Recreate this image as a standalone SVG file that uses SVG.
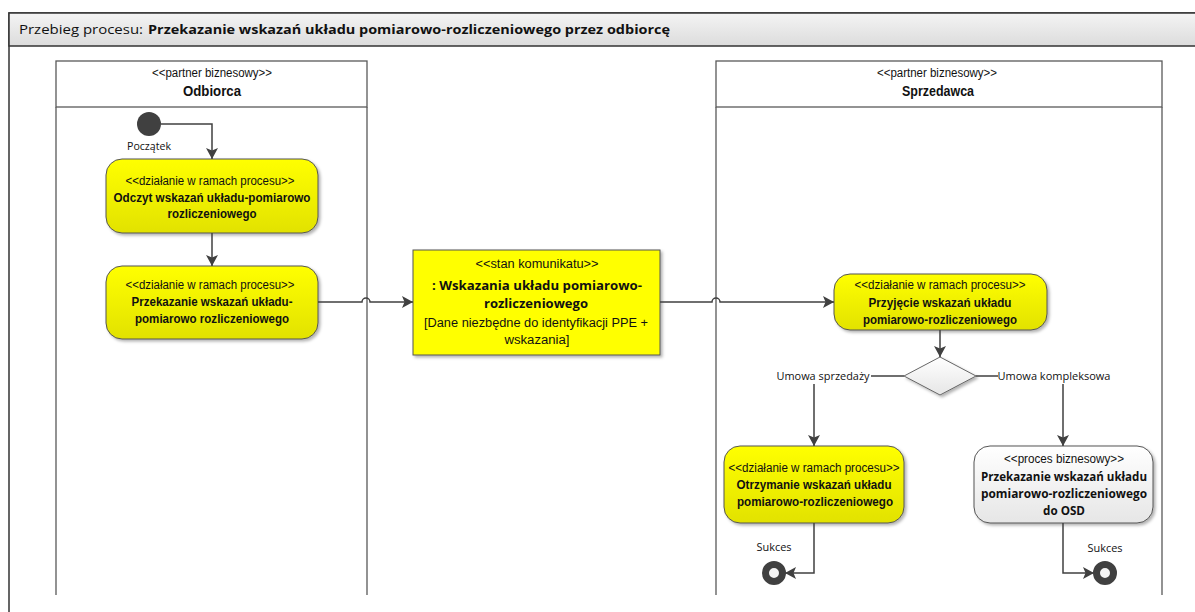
<svg xmlns="http://www.w3.org/2000/svg" width="1195" height="612" viewBox="0 0 1195 612">
<defs>
<linearGradient id="gTitle" x1="0" y1="0" x2="0" y2="1"><stop offset="0" stop-color="#f4f4f4"/><stop offset="1" stop-color="#dcdcdc"/></linearGradient>
<linearGradient id="gYellow" x1="0" y1="0" x2="0" y2="1"><stop offset="0" stop-color="#ffff00"/><stop offset="1" stop-color="#e2e200"/></linearGradient>
<linearGradient id="gWhite" x1="0" y1="0" x2="0" y2="1"><stop offset="0" stop-color="#ffffff"/><stop offset="1" stop-color="#e6e6e6"/></linearGradient>
<filter id="sh" x="-10%" y="-10%" width="130%" height="140%"><feDropShadow dx="2" dy="2" stdDeviation="1.5" flood-color="#000" flood-opacity="0.3"/></filter>
<marker id="arr" markerUnits="userSpaceOnUse" markerWidth="14" markerHeight="14" refX="11" refY="6" orient="auto"><path d="M0,0 L11,6 L0,12 L2.5,6 Z" fill="#404040"/></marker>
<style>
.frame{fill:none;stroke:#333;stroke-width:1.5}
.lane{fill:none;stroke:#595959;stroke-width:1.3}
.act{fill:url(#gYellow);stroke:#555;stroke-width:1;filter:url(#sh)}
.proc{fill:url(#gWhite);stroke:#555;stroke-width:1;filter:url(#sh)}
.msg{fill:#ffff00;stroke:#555;stroke-width:1;filter:url(#sh)}
.con{fill:none;stroke:#404040;stroke-width:1.5}
.st{font-family:"Liberation Sans Narrow","Liberation Sans",Arial,sans-serif;font-size:12px;fill:#111;text-anchor:middle}
.b{font-family:"Liberation Sans Narrow","Liberation Sans",Arial,sans-serif;font-size:12.5px;font-weight:bold;fill:#111;text-anchor:middle}
.cb{font-family:"Open Sans","Noto Sans",sans-serif;font-size:13px;font-weight:bold;fill:#111;text-anchor:middle}
.lbl{font-family:"Open Sans","Noto Sans",sans-serif;font-size:11px;fill:#111;text-anchor:middle}
.hdr{font-family:"Liberation Sans Narrow","Liberation Sans",Arial,sans-serif;font-size:14px;font-weight:bold;fill:#111;text-anchor:middle}
.end{fill:#f4f4f4;stroke:#404040;stroke-width:7}
</style>
</defs>
<g id="frame">
<rect x="9" y="13" width="1195" height="610" class="frame"/>
<rect x="9" y="13" width="1195" height="33" fill="url(#gTitle)" stroke="#333" stroke-width="1.5"/>
<text x="19" y="34" font-family="Open Sans,Noto Sans,sans-serif" font-size="13" fill="#111"><tspan textLength="124" lengthAdjust="spacingAndGlyphs">Przebieg procesu:</tspan><tspan x="148" font-weight="bold" textLength="522" lengthAdjust="spacingAndGlyphs">Przekazanie wskazań układu pomiarowo-rozliczeniowego przez odbiorcę</tspan></text>
</g>
<g id="lane-odbiorca">
<rect x="56" y="61" width="311" height="46" fill="#fff" class="lane"/>
<path d="M56,107 V595 M367,107 V595" class="lane"/>
<text x="212" y="77" class="st" textLength="120" lengthAdjust="spacingAndGlyphs">&lt;&lt;partner biznesowy&gt;&gt;</text>
<text x="212" y="96" class="hdr" textLength="58" lengthAdjust="spacingAndGlyphs">Odbiorca</text>
</g>
<g id="lane-sprzedawca">
<rect x="716" y="61" width="446" height="46" fill="#fff" class="lane"/>
<path d="M716,107 V595 M1162,107 V595" class="lane"/>
<text x="937" y="77" class="st" textLength="120" lengthAdjust="spacingAndGlyphs">&lt;&lt;partner biznesowy&gt;&gt;</text>
<text x="938" y="96" class="hdr" textLength="72" lengthAdjust="spacingAndGlyphs">Sprzedawca</text>
</g>
<g id="start">
<circle cx="149" cy="124" r="12" fill="#404040"/>
<text x="149" y="150" class="lbl" textLength="44" lengthAdjust="spacingAndGlyphs">Początek</text>
</g>
<g id="odczyt">
<rect x="106" y="159" width="212" height="74" rx="16" class="act"/>
<text x="210" y="185" class="st" textLength="169" lengthAdjust="spacingAndGlyphs">&lt;&lt;działanie w ramach procesu&gt;&gt;</text>
<text x="212" y="202" class="b" textLength="197" lengthAdjust="spacingAndGlyphs">Odczyt wskazań układu-pomiarowo</text>
<text x="212" y="218" class="b" textLength="89" lengthAdjust="spacingAndGlyphs">rozliczeniowego</text>
</g>
<g id="przekazanie">
<rect x="106" y="266" width="212" height="73" rx="16" class="act"/>
<text x="210" y="289" class="st" textLength="169" lengthAdjust="spacingAndGlyphs">&lt;&lt;działanie w ramach procesu&gt;&gt;</text>
<text x="212" y="306" class="b" textLength="161" lengthAdjust="spacingAndGlyphs">Przekazanie wskazań układu-</text>
<text x="212" y="323" class="b" textLength="154" lengthAdjust="spacingAndGlyphs">pomiarowo rozliczeniowego</text>
</g>
<g id="komunikat">
<rect x="413" y="250" width="247" height="105" class="msg"/>
<text x="537" y="268" class="st" textLength="123" lengthAdjust="spacingAndGlyphs">&lt;&lt;stan komunikatu&gt;&gt;</text>
<text x="537" y="290" class="cb" textLength="210" lengthAdjust="spacingAndGlyphs">: Wskazania układu pomiarowo-</text>
<text x="536" y="308" class="cb" textLength="104" lengthAdjust="spacingAndGlyphs">rozliczeniowego</text>
<text x="536" y="327" class="st" font-size="13" textLength="224" lengthAdjust="spacingAndGlyphs">[Dane niezbędne do identyfikacji PPE +</text>
<text x="537" y="344" class="st" font-size="13" textLength="65" lengthAdjust="spacingAndGlyphs">wskazania]</text>
</g>
<g id="przyjecie">
<rect x="834" y="274" width="213" height="56" rx="16" class="act"/>
<text x="940" y="289" class="st" textLength="171" lengthAdjust="spacingAndGlyphs">&lt;&lt;działanie w ramach procesu&gt;&gt;</text>
<text x="940" y="307" class="b" textLength="143" lengthAdjust="spacingAndGlyphs">Przyjęcie wskazań układu</text>
<text x="940" y="324" class="b" textLength="154" lengthAdjust="spacingAndGlyphs">pomiarowo-rozliczeniowego</text>
</g>
<g id="decyzja">
<path d="M940,357 L976,376 L940,395 L904,376 Z" fill="url(#gWhite)" stroke="#666" stroke-width="1" filter="url(#sh)"/>
</g>
<g id="otrzymanie">
<rect x="724" y="446" width="180" height="77" rx="16" class="act"/>
<text x="814" y="472" class="st" textLength="171" lengthAdjust="spacingAndGlyphs">&lt;&lt;działanie w ramach procesu&gt;&gt;</text>
<text x="814" y="489" class="b" textLength="155" lengthAdjust="spacingAndGlyphs">Otrzymanie wskazań układu</text>
<text x="815" y="506" class="b" textLength="156" lengthAdjust="spacingAndGlyphs">pomiarowo-rozliczeniowego</text>
</g>
<g id="proces-osd">
<rect x="974" y="446" width="179" height="77" rx="16" class="proc"/>
<text x="1064" y="463" class="st" textLength="120" lengthAdjust="spacingAndGlyphs">&lt;&lt;proces biznesowy&gt;&gt;</text>
<text x="1064" y="481" class="cb" textLength="166" lengthAdjust="spacingAndGlyphs">Przekazanie wskazań układu</text>
<text x="1064" y="498" class="cb" textLength="166" lengthAdjust="spacingAndGlyphs">pomiarowo-rozliczeniowego</text>
<text x="1064" y="515" class="cb" textLength="42" lengthAdjust="spacingAndGlyphs">do OSD</text>
</g>
<g id="koniec-1">
<circle cx="774" cy="573" r="8.5" class="end"/>
<text x="774" y="551" class="lbl" textLength="35" lengthAdjust="spacingAndGlyphs">Sukces</text>
</g>
<g id="koniec-2">
<circle cx="1105" cy="573" r="8.5" class="end"/>
<text x="1105" y="552" class="lbl" textLength="35" lengthAdjust="spacingAndGlyphs">Sukces</text>
</g>
<g id="connectors">
<path d="M161,124 H212 V159" class="con" marker-end="url(#arr)"/>
<path d="M212,233 V266" class="con" marker-end="url(#arr)"/>
<path d="M318,302 H362 a4,4 0 0 1 8,0 H413" class="con" marker-end="url(#arr)"/>
<path d="M660,302 H712 a4,4 0 0 1 8,0 H834" class="con" marker-end="url(#arr)"/>
<path d="M940,330 V357" class="con" marker-end="url(#arr)"/>
<path d="M904,376 H871 M814,384 V446" class="con" marker-end="url(#arr)"/>
<path d="M976,376 H998 M1063,384 V446" class="con" marker-end="url(#arr)"/>
<text x="823" y="380" class="lbl" textLength="93" lengthAdjust="spacingAndGlyphs">Umowa sprzedaży</text>
<text x="1054" y="380" class="lbl" textLength="113" lengthAdjust="spacingAndGlyphs">Umowa kompleksowa</text>
<path d="M814,523 V573 H785" class="con" marker-end="url(#arr)"/>
<path d="M1063,523 V573 H1094" class="con" marker-end="url(#arr)"/>
</g>
</svg>
